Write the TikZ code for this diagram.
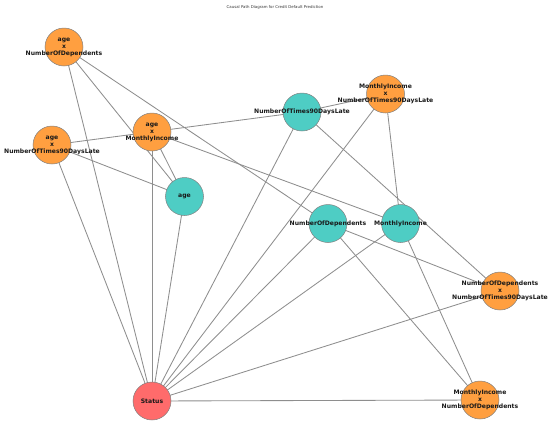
\documentclass[tikz,border=0pt]{standalone}
\usepackage{fontspec}
\setmainfont{DejaVu Sans}
\usetikzlibrary{backgrounds}
\definecolor{orangenode}{HTML}{FF9F40}
\definecolor{tealnode}{HTML}{4ECDC4}
\definecolor{rednode}{HTML}{FF6B6B}
\definecolor{edgegray}{HTML}{8E8E8E}
\definecolor{bordergray}{HTML}{808080}
\begin{document}
\begin{tikzpicture}[x=1pt,y=-1pt,
  vnode/.style={circle,minimum size=38pt,inner sep=0pt,draw=bordergray,line width=0.5pt},
  inode/.style={vnode,fill=orangenode},
  cnode/.style={vnode,fill=tealnode},
  snode/.style={vnode,fill=rednode},
  lbl/.style={font=\fontsize{6.1}{7}\selectfont\bfseries,align=center,inner sep=0pt,text=black!90},
  edge/.style={draw=edgegray,line width=0.85pt}]
\useasboundingbox (0,0) rectangle (550,424);
\node[font=\fontsize{3.9}{4.5}\selectfont,text=black!80] (title) at (275,7) {Causal Path Diagram for Credit Default Prediction};
% nodes
\node[inode,label={[lbl]center:age\\x\\NumberOfDependents}] (A) at (64,47) {};
\node[inode,label={[lbl]center:age\\x\\NumberOfTimes90DaysLate}] (B) at (52,145) {};
\node[inode,label={[lbl]center:age\\x\\MonthlyIncome}] (C) at (152,132) {};
\node[cnode,label={[lbl]center:age}] (D) at (184.5,196.5) {};
\node[cnode,label={[lbl]center:NumberOfTimes90DaysLate}] (E) at (302,112) {};
\node[inode,label={[lbl]center:MonthlyIncome\\x\\NumberOfTimes90DaysLate}] (F) at (385.5,94) {};
\node[cnode,label={[lbl]center:NumberOfDependents}] (G) at (328,223.5) {};
\node[cnode,label={[lbl]center:MonthlyIncome}] (H) at (400.5,223.5) {};
\node[inode,label={[lbl]center:NumberOfDependents\\x\\NumberOfTimes90DaysLate}] (I) at (500,291) {};
\node[inode,label={[lbl]center:MonthlyIncome\\x\\NumberOfDependents}] (J) at (480,400) {};
\node[snode,label={[lbl]center:Status}] (S) at (152,401) {};
% edges
\begin{scope}[on background layer]
\draw[edge] (A.center) -- (D.center);
\draw[edge] (A.center) -- (G.center);
\draw[edge] (A.center) -- (S.center);
\draw[edge] (B.center) -- (D.center);
\draw[edge] (B.center) -- (E.center);
\draw[edge] (B.center) -- (S.center);
\draw[edge] (C.center) -- (D.center);
\draw[edge] (C.center) -- (H.center);
\draw[edge] (C.center) -- (S.center);
\draw[edge] (D.center) -- (S.center);
\draw[edge] (E.center) -- (F.center);
\draw[edge] (E.center) -- (I.center);
\draw[edge] (E.center) -- (S.center);
\draw[edge] (F.center) -- (H.center);
\draw[edge] (F.center) -- (S.center);
\draw[edge] (G.center) -- (I.center);
\draw[edge] (G.center) -- (J.center);
\draw[edge] (G.center) -- (S.center);
\draw[edge] (H.center) -- (J.center);
\draw[edge] (H.center) -- (S.center);
\draw[edge] (I.center) -- (S.center);
\draw[edge] (J.center) -- (S.center);
\end{scope}
\end{tikzpicture}
\end{document}
